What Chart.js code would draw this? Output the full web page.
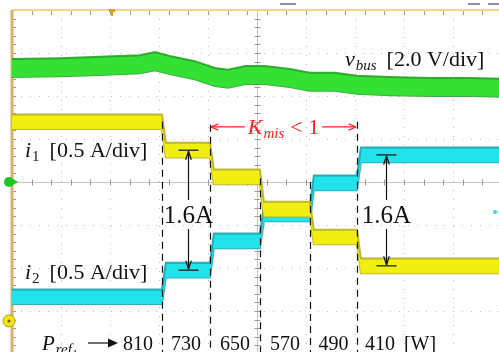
<!DOCTYPE html>
<html>
<head>
<meta charset="utf-8">
<script src="https://cdn.jsdelivr.net/npm/chart.js@4.4.1/dist/chart.umd.min.js"></script>
<style>
  html, body { margin: 0; padding: 0; background: #fff; overflow: hidden; }
  #wrap { position: absolute; left: 0; top: 0; width: 510px; height: 360px; }
</style>
</head>
<body>
<div id="wrap"><canvas id="scope" width="510" height="360"></canvas></div>
<script>
/* ── Data (x: horizontal divisions, y: vertical divisions, 0 = screen centre) ── */

// Instants where P_ref1 steps down
const stepTimes   = [3.06, 4.04, 5.06, 6.08, 7.04];
const powerLabels = ['810', '730', '650', '570', '490', '410'];

// Current traces, one level per power step
const i1Levels = [1.40, 0.74, 0.12, -0.63, -1.28, -1.95];
const i2Levels = [-2.67, -2.05, -1.37, -0.74, -0.02, 0.63];

// Bus voltage trace
const vbusTime  = [0, 0.98, 1.80, 2.61, 2.92, 3.22, 3.73, 4.14, 4.41, 4.76, 5.16, 5.67, 6.08, 6.59, 7.04, 7.71, 8.53, 9.35, 10];
const vbusLevel = [2.65, 2.67, 2.70, 2.74, 2.81, 2.72, 2.60, 2.44, 2.40, 2.49, 2.49, 2.42, 2.33, 2.33, 2.26, 2.23, 2.21, 2.21, 2.19];

// Annotation anchors
const markerTop   = [1.40, 1.33, 0.09, 0.0, 1.40];   // top end of each dashed line
const deltaTimes  = [3.59, 7.63];                    // the two "1.6A" arrows
const kmisLevel   = 1.28;
const i1Ground    = -3.23;

/* ── Styling ─────────────────────────────────────────────────────────────── */

const COLORS = {
    yellow:     '#f1ee12',
    yellowEdge: 'rgba(180,170,30,0.85)',
    cyan:       '#22e2ea',
    cyanEdge:   'rgba(20,160,172,0.85)',
    green:      '#35e035',
    greenEdge:  'rgba(30,160,30,0.85)',
    grid:       'rgba(140,140,140,0.55)',
    axis:       '#c6c6c6',
    tick:       '#9a9a9a',
    frameTop:   '#f0d68a',
    frameLeft:  '#dcae6e',
    red:        '#ff1e1e',
};
const SERIF = "'Liberation Serif', 'Times New Roman', serif";
const RISE = 0.08;        // transition width of a step, divisions
const HALF_I = 0.17;      // half thickness of the current traces
const HALF_V = 0.21;      // half thickness of the bus voltage trace

/* ── Helpers ─────────────────────────────────────────────────────────────── */

function stepTrace(levels) {
    const pts = [{ x: 0, y: levels[0] }];
    stepTimes.forEach((t, i) => {
        pts.push({ x: t, y: levels[i] });
        pts.push({ x: t + RISE, y: levels[i + 1] });
    });
    pts.push({ x: 10, y: levels[levels.length - 1] });
    return pts;
}

const shift = (pts, d) => pts.map(p => ({ x: p.x, y: p.y + d }));

function band(pts, half, fillColor, edgeColor) {
    const common = { borderColor: edgeColor, borderWidth: 2, pointRadius: 0, tension: 0 };
    return [
        { ...common, data: shift(pts, half), fill: '+1', backgroundColor: fillColor },
        { ...common, data: shift(pts, -half), fill: false },
    ];
}

function drawRich(ctx, x, y, parts) {
    let cx = x;
    parts.forEach(p => {
        ctx.font = p.font;
        cx += p.pre || 0;
        ctx.fillText(p.text, cx, y + (p.dy || 0));
        cx += ctx.measureText(p.text).width;
    });
    return cx;
}

function richWidth(ctx, parts) {
    return parts.reduce((w, p) => { ctx.font = p.font; return w + (p.pre || 0) + ctx.measureText(p.text).width; }, 0);
}

function seg(ctx, x1, y1, x2, y2) {
    ctx.beginPath(); ctx.moveTo(x1, y1); ctx.lineTo(x2, y2); ctx.stroke();
}

function openHead(ctx, tx, ty, dir, len = 8, spread = 0.4) {
    // dir: angle the arrow points to
    [dir + Math.PI - spread, dir + Math.PI + spread].forEach(a => {
        seg(ctx, tx, ty, tx + len * Math.cos(a), ty + len * Math.sin(a));
    });
}

/* ── Plugins ─────────────────────────────────────────────────────────────── */

const graticule = {
    id: 'graticule',
    beforeDatasetsDraw(chart) {
        const { ctx, chartArea: a, scales: { x, y } } = chart;
        ctx.save();
        ctx.lineWidth = 1;

        ctx.strokeStyle = COLORS.grid;
        ctx.setLineDash([1, 8]);
        for (let i = 1; i < 10; i++) {
            const px = Math.round(x.getPixelForValue(i)) + 0.5;
            seg(ctx, px, a.top, px, a.bottom);
        }
        for (let j = -3; j <= 3; j++) {
            const py = Math.round(y.getPixelForValue(j)) + 0.5;
            seg(ctx, a.left, py, a.right, py);
        }
        ctx.setLineDash([]);

        const cx = Math.round(x.getPixelForValue(5)) + 0.5;
        const cy = Math.round(y.getPixelForValue(0)) + 0.5;
        ctx.strokeStyle = COLORS.axis;
        seg(ctx, a.left, cy, a.right, cy);
        seg(ctx, cx, a.top, cx, a.bottom);

        ctx.strokeStyle = COLORS.tick;
        for (let k = 0; k <= 25; k++) {
            const px = Math.round(x.getPixelForValue(k * 0.4)) + 0.5;
            seg(ctx, px, cy - 3, px, cy + 3);
            seg(ctx, px, a.top, px, a.top + 5);
        }
        for (let k = -20; k <= 20; k++) {
            const py = Math.round(y.getPixelForValue(k * 0.2)) + 0.5;
            seg(ctx, cx - 3, py, cx + 3, py);
            seg(ctx, a.left, py, a.left + 4, py);
        }

        ctx.strokeStyle = COLORS.frameTop; ctx.lineWidth = 2;
        seg(ctx, a.left, a.top, a.right, a.top);
        ctx.strokeStyle = COLORS.frameLeft; ctx.lineWidth = 3;
        seg(ctx, a.left, a.top, a.left, 360);

        // scope screen remnants above the frame
        ctx.strokeStyle = '#9c8aa4'; ctx.lineWidth = 2;
        seg(ctx, 280, 4, 296, 4);
        seg(ctx, 468, 4, 480, 4);
        seg(ctx, 488, 4, 499, 4);
        ctx.restore();
    },
};

const annotations = {
    id: 'annotations',
    afterDatasetsDraw(chart) {
        const { ctx, chartArea: a, scales: { x, y } } = chart;
        ctx.save();
        ctx.textBaseline = 'alphabetic';

        // trigger marker and channel markers
        const tx = x.getPixelForValue(2.04);
        ctx.fillStyle = '#e89a2c';
        ctx.fillRect(tx - 3, a.top - 1, 6, 3);
        ctx.fillRect(tx - 1, a.top, 2, 6);

        const cy = y.getPixelForValue(0);
        ctx.fillStyle = '#22c622';
        ctx.beginPath(); ctx.arc(9, cy, 5, 0, Math.PI * 2); ctx.fill();
        ctx.beginPath(); ctx.moveTo(13, cy - 3); ctx.lineTo(18, cy); ctx.lineTo(13, cy + 3); ctx.fill();

        const gy = y.getPixelForValue(i1Ground);
        ctx.fillStyle = '#f3e41c'; ctx.strokeStyle = '#b89a00'; ctx.lineWidth = 1;
        ctx.beginPath(); ctx.arc(9, gy, 6, 0, Math.PI * 2); ctx.fill(); ctx.stroke();
        ctx.fillStyle = '#7a5a00';
        ctx.beginPath(); ctx.arc(9, gy, 1.5, 0, Math.PI * 2); ctx.fill();

        ctx.fillStyle = COLORS.cyan;
        ctx.beginPath(); ctx.arc(495, y.getPixelForValue(-0.7), 2, 0, Math.PI * 2); ctx.fill();

        // dashed step markers
        ctx.strokeStyle = '#111'; ctx.lineWidth = 1.2; ctx.setLineDash([7, 5]);
        stepTimes.forEach((t, i) => {
            const px = Math.round(x.getPixelForValue(t)) + 0.5;
            seg(ctx, px, y.getPixelForValue(markerTop[i]), px, a.bottom);
        });
        ctx.setLineDash([]);

        // K_mis < 1 span
        const kx1 = x.getPixelForValue(stepTimes[1]) + 1;
        const kx2 = x.getPixelForValue(stepTimes[4]) - 1;
        const ky = y.getPixelForValue(kmisLevel);
        const kParts = [
            { text: 'K', font: `italic 22px ${SERIF}` },
            { text: 'mis', font: `italic 15px ${SERIF}`, dy: 4, pre: 1 },
            { text: '< 1', font: `22px ${SERIF}`, pre: 6 },
        ];
        const kw = richWidth(ctx, kParts);
        const kStart = (kx1 + kx2) / 2 - kw / 2;
        ctx.fillStyle = COLORS.red; ctx.strokeStyle = COLORS.red; ctx.lineWidth = 1.2;
        drawRich(ctx, kStart, ky + 7, kParts);
        seg(ctx, kx1, ky, kStart - 3, ky);
        seg(ctx, kStart + kw + 3, ky, kx2, ky);
        openHead(ctx, kx1, ky, Math.PI);
        openHead(ctx, kx2, ky, 0);

        // 1.6A arrows between the two current levels
        const pairs = [[i1Levels[1], i2Levels[1]], [i2Levels[5], i1Levels[5]]];
        ctx.strokeStyle = '#111'; ctx.fillStyle = '#111'; ctx.lineWidth = 1.2;
        ctx.font = `25px ${SERIF}`; ctx.textAlign = 'center';
        deltaTimes.forEach((t, i) => {
            const px = Math.round(x.getPixelForValue(t)) + 0.5;
            const top = y.getPixelForValue(pairs[i][0]);
            const bot = y.getPixelForValue(pairs[i][1]);
            seg(ctx, px - 10, top, px + 10, top);
            seg(ctx, px - 10, bot, px + 10, bot);
            seg(ctx, px, top + 1, px, 200);
            seg(ctx, px, 229, px, bot - 1);
            openHead(ctx, px, top + 1, -Math.PI / 2, 9, 0.32);
            openHead(ctx, px, bot - 1, Math.PI / 2, 9, 0.32);
            ctx.fillText('1.6A', px, 223);
        });

        // bottom power labels
        ctx.font = `20px ${SERIF}`;
        const linePx = stepTimes.map(t => x.getPixelForValue(t));
        ctx.textAlign = 'right';
        ctx.fillText(powerLabels[0], linePx[0] - 9, 350);
        ctx.textAlign = 'center';
        for (let i = 1; i < powerLabels.length - 1; i++) {
            ctx.fillText(powerLabels[i], (linePx[i - 1] + linePx[i]) / 2, 350);
        }
        ctx.textAlign = 'left';
        const lastEnd = linePx[linePx.length - 1] + 8;
        ctx.fillText(powerLabels[powerLabels.length - 1], lastEnd, 350);
        ctx.fillText('[W]', lastEnd + ctx.measureText('410').width + 9, 350);

        drawRich(ctx, 42, 350, [
            { text: 'P', font: `italic 21px ${SERIF}` },
            { text: 'ref', font: `italic 15px ${SERIF}`, dy: 4, pre: 1 },
            { text: '1', font: `italic 11px ${SERIF}`, dy: 7 },
        ]);
        seg(ctx, 88, 343, 110, 343);
        ctx.beginPath(); ctx.moveTo(118, 343); ctx.lineTo(108, 338.5); ctx.lineTo(108, 347.5); ctx.closePath(); ctx.fill();

        // channel labels
        const chan = (sym, sub, scale) => [
            { text: sym, font: `italic 22px ${SERIF}` },
            { text: sub, font: `${sub === 'bus' ? 'italic ' : ''}15px ${SERIF}`, dy: 4, pre: 1 },
            { text: scale, font: `22px ${SERIF}`, pre: 10 },
        ];
        drawRich(ctx, 345, 66, chan('v', 'bus', '[2.0 V/div]'));
        drawRich(ctx, 25, 157, chan('i', '1', '[0.5 A/div]'));
        drawRich(ctx, 25, 279, chan('i', '2', '[0.5 A/div]'));

        ctx.restore();
    },
};

/* ── Chart ───────────────────────────────────────────────────────────────── */

const vbusPts = vbusTime.map((t, i) => ({ x: t, y: vbusLevel[i] }));

new Chart(document.getElementById('scope').getContext('2d'), {
    type: 'line',
    data: {
        datasets: [
            ...band(stepTrace(i1Levels), HALF_I, COLORS.yellow, COLORS.yellowEdge),
            ...band(stepTrace(i2Levels), HALF_I, COLORS.cyan, COLORS.cyanEdge),
            ...band(vbusPts, HALF_V, COLORS.green, COLORS.greenEdge),
        ],
    },
    options: {
        responsive: false,
        devicePixelRatio: 1,
        animation: false,
        layout: { padding: { left: 12, top: 10, right: 8, bottom: 6 } },
        scales: {
            x: { type: 'linear', min: 0, max: 10, display: false },
            y: { type: 'linear', min: -4, max: 4, display: false },
        },
        plugins: { legend: { display: false }, tooltip: { enabled: false } },
    },
    plugins: [graticule, annotations],
});
</script>
</body>
</html>
